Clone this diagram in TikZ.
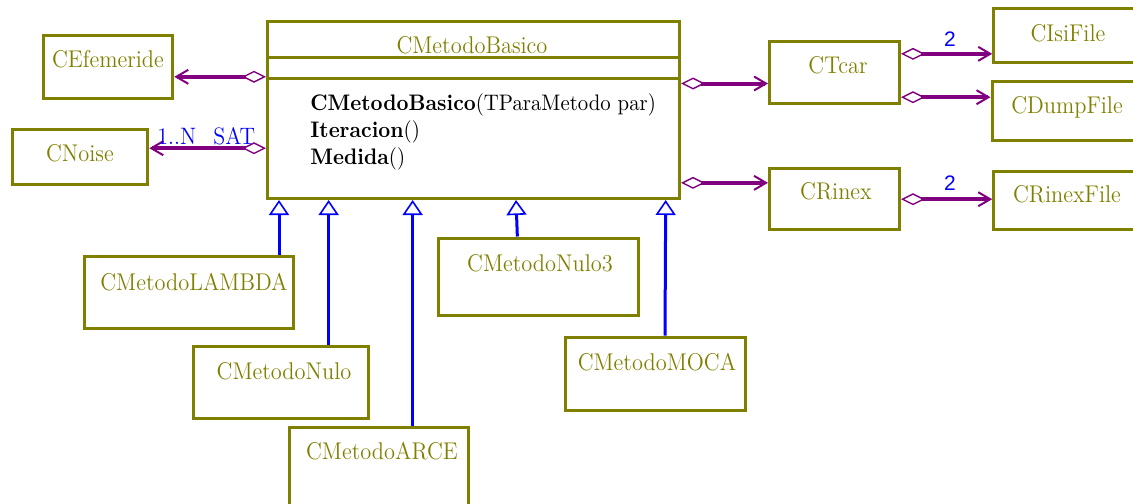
\documentclass[tikz,border=0pt]{standalone}
\usepackage{fontspec}
\usepackage{graphicx}
\newfontfamily\numfont{Liberation Sans}
\usetikzlibrary{arrows.meta,fit,calc}
\definecolor{clsolive}{RGB}{128,128,0}
\definecolor{aggpurple}{RGB}{128,0,128}
\definecolor{genblue}{RGB}{0,0,255}
% slightly taller lettering for the diagram texts
\newcommand{\tallText}[1]{\scalebox{1}[1.08]{#1}}
\begin{document}
\begin{tikzpicture}[x=0.5pt,y=-0.5pt,
  cls/.style={draw=clsolive, line width=1.5pt, inner sep=0pt, fit={#1}},
  sepline/.style={draw=clsolive, line width=1.5pt},
  cname/.style={text=clsolive, font=\fontsize{11.2}{13}\selectfont, inner sep=0pt, anchor=base},
  op/.style={font=\fontsize{10.4}{12}\selectfont, inner sep=0pt, anchor=base west},
  agg/.style={draw=aggpurple, line width=2pt,
    {Diamond[open,length=12pt,width=6pt,line width=0.7pt]}-{Straight Barb[length=6pt,width=7pt,line width=1pt]}},
  gen/.style={draw=genblue, line width=1.5pt,
    -{Triangle[open,length=7.5pt,width=10pt,line width=0.8pt]}},
  mult/.style={text=genblue, inner sep=0pt, anchor=base},
]
\useasboundingbox (0,0) rectangle (1133,503);
\clip (0,0) rectangle (1133,503);

% base class with its three compartments
\node[cls={(267.5,21.5) (679.5,198.5)}] (base) {};
\draw[sepline] (base.west |- 0,57.5) -- (base.east |- 0,57.5);
\draw[sepline] (base.west |- 0,78) -- (base.east |- 0,78);
\node[cname] (basename) at (472,53) {\tallText{CMetodoBasico}};
\node[op] (op1) at (310,110) {\tallText{\textbf{CMetodoBasico}(TParaMetodo par)}};
\node[op] (op2) at (310,137) {\tallText{\textbf{Iteracion}()}};
\node[op] (op3) at (310,164) {\tallText{\textbf{Medida}()}};

% associated classes
\node[cls={(43,35.3) (172.8,98.7)}] (efem) {};
\node[cname] (efemname) at (108,67) {\tallText{CEfemeride}};
\node[cls={(12.8,129.5) (147.8,184.7)}] (noise) {};
\node[cname] (noisename) at (80,161) {\tallText{CNoise}};
\node[cls={(769.5,41.3) (899.5,103.7)}] (tcar) {};
\node[cname] (tcarname) at (838,73) {\tallText{CTcar}};
\node[cls={(993.7,8.7) (1142,62)}] (isi) {};
\node[cname] (isiname) at (1068,41) {\tallText{CIsiFile}};
\node[cls={(992,81.3) (1142,140.3)}] (dump) {};
\node[cname] (dumpname) at (1067,113) {\tallText{CDumpFile}};
\node[cls={(769.5,168) (899.5,229.7)}] (rinex) {};
\node[cname] (rinexname) at (836,199) {\tallText{CRinex}};
\node[cls={(993.7,171.3) (1142,229.7)}] (rinexfile) {};
\node[cname] (rinexfilename) at (1067,202) {\tallText{CRinexFile}};

% derived classes
\node[cls={(84,256.7) (293,328.7)}] (lambda) {};
\node[cname] (lambdaname) at (194,290) {\tallText{CMetodoLAMBDA}};
\node[cls={(193.3,346) (368,418.7)}] (nulo) {};
\node[cname] (nuloname) at (284,379) {\tallText{CMetodoNulo}};
\node[cls={(289.3,427) (468,512)}] (arce) {};
\node[cname] (arcename) at (382,459) {\tallText{CMetodoARCE}};
\node[cls={(438.7,238) (638,315.7)}] (nulothree) {};
\node[cname] (nulothreename) at (540,271) {\tallText{CMetodoNulo3}};
\node[cls={(565.3,337) (745.3,410.3)}] (moca) {};
\node[cname] (mocaname) at (657,370) {\tallText{CMetodoMOCA}};

% aggregations
\path (efem.east) ++(0,9.8) coordinate (c1);
\draw[agg] (base.west |- c1) -- (c1);
\path (noise.east) ++(0,-8.9) coordinate (c2);
\draw[agg] (base.west |- c2) -- (c2);
\path (tcar.west) ++(0,11) coordinate (c3);
\draw[agg] (base.east |- c3) -- (c3);
\path (rinex.west) ++(0,-16) coordinate (c4);
\draw[agg] (base.east |- c4) -- (c4);
\path (isi.west) ++(0,18.5) coordinate (c5);
\draw[agg] (tcar.east |- c5) -- (c5);
\path (dump.west) ++(0,-13.6) coordinate (c6);
\draw[agg] (tcar.east |- c6) -- (c6);
\path (rinexfile.west) ++(0,-1.3) coordinate (c7);
\draw[agg] (rinex.east |- c7) -- (c7);

% multiplicities
\node[mult, anchor=base west, font=\fontsize{11}{13}\selectfont] (satlbl) at (157,144) {\tallText{1..N\hspace{8.5pt}SAT}};
\node[mult, font=\numfont\fontsize{10.5}{12}\selectfont] (isimult) at (950,46) {2};
\node[mult, font=\numfont\fontsize{10.5}{12}\selectfont] (rinexmult) at (950,190) {2};

% generalizations
\path (lambda.north) ++(90.5,0) coordinate (g1);
\draw[gen] (g1) -- (g1 |- base.south);
\path (nulo.north) ++(48,0) coordinate (g2);
\draw[gen] (g2) -- (g2 |- base.south);
\path (arce.north) ++(34,0) coordinate (g3);
\draw[gen] (g3) -- (g3 |- base.south);
\path (nulothree.north) ++(-21,0) coordinate (g4);
\path (base.south) ++(42.5,0) coordinate (t4);
\draw[gen] (g4) -- (t4);
\path (moca.north) ++(9.7,0) coordinate (g5);
\path (base.south) ++(192.2,0) coordinate (t5);
\draw[gen] (g5) -- (t5);
\end{tikzpicture}
\end{document}
